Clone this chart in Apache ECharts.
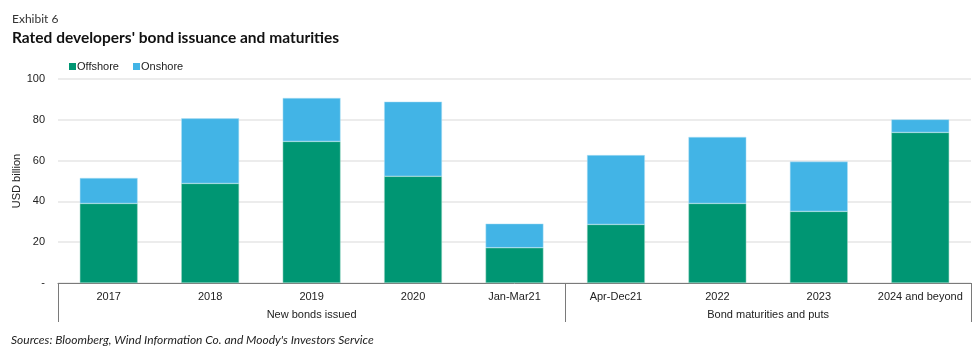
<!DOCTYPE html>
<html><head><meta charset="utf-8">
<script src="https://cdn.jsdelivr.net/npm/echarts@6/dist/echarts.min.js"></script>
<style>html,body{margin:0;padding:0;background:#fff}#c{width:980px;height:358px}</style>
</head><body><div id="c"></div>
<script>
const categories = ['2017','2018','2019','2020','Jan-Mar21','Apr-Dec21','2022','2023','2024 and beyond'];
const offshore = [39.0, 48.8, 69.4, 52.3, 17.3, 28.7, 39.0, 35.1, 73.8];
const total = [51.5, 80.7, 90.7, 88.9, 29.1, 62.7, 71.6, 59.5, 80.2];
const onshore = total.map((t, i) => +(t - offshore[i]).toFixed(1));
const groups = ['New bonds issued', 'Bond maturities and puts'];
const groupCenters = [2.5, 7];
const groupBounds = [0, 5, 9];
const yTicks = [0, 20, 40, 60, 80, 100];

const chart = echarts.init(document.getElementById('c'));
chart.setOption({
  animation: false,
  textStyle: { fontFamily: 'Liberation Sans, Arial, sans-serif' },
  title: [
    { text: 'Exhibit 6', left: 7, top: 8, textStyle: { fontFamily: 'Lato', fontWeight: 'normal', fontSize: 12, color: '#333' } },
    { text: "Rated developers' bond issuance and maturities", left: 7, top: 25, textStyle: { fontFamily: 'Lato', fontWeight: 'bold', fontSize: 15.5, color: '#111' } },
    { text: "Sources: Bloomberg, Wind Information Co. and Moody's Investors Service", left: 6, top: 329, textStyle: { fontFamily: 'Lato', fontStyle: 'italic', fontWeight: 'normal', fontSize: 12, color: '#222' } }
  ],
  legend: {
    left: 64, top: 56, itemWidth: 7, itemHeight: 7, itemGap: 14,
    icon: 'rect',
    itemStyle: { borderWidth: 0 },
    textStyle: { fontSize: 11, color: '#222', padding: [0, 0, 0, -4] },
    data: ['Offshore', 'Onshore']
  },
  grid: { left: 58, right: 9, top: 79, bottom: 75, outerBoundsMode: 'none', containLabel: false },
  xAxis: [
    {
      type: 'category', data: categories, position: 'bottom',
      axisLine: { show: true, lineStyle: { color: '#7a7a7a', width: 1 } },
      axisTick: { show: false },
      axisLabel: { color: '#222', fontSize: 11, margin: 8, interval: 0 }
    },
    {
      type: 'value', min: 0, max: 9, position: 'bottom',
      splitLine: { show: false },
      axisLine: { show: false },
      axisTick: { show: true, customValues: groupBounds, length: 39, lineStyle: { color: '#7a7a7a', width: 1 } },
      axisLabel: {
        customValues: groupCenters, fontSize: 11, color: '#222', margin: 26,
        formatter: v => groups[groupCenters.indexOf(v)] || ''
      }
    }
  ],
  yAxis: {
    type: 'value', min: 0, max: 100, interval: 20,
    name: 'USD billion', nameLocation: 'middle', nameGap: 36, nameRotate: 90, nameMoveOverlap: false,
    nameTextStyle: { fontSize: 11, color: '#222' },
    axisLine: { show: false }, axisTick: { show: false },
    axisLabel: { fontSize: 11, color: '#222', margin: 13, formatter: v => v === 0 ? '-' : String(v) },
    splitLine: { lineStyle: { color: '#e6e6e6', width: 1.5 } }
  },
  series: [
    { name: 'Offshore', type: 'bar', stack: 'a', data: offshore, barWidth: '57%', xAxisIndex: 0,
      itemStyle: { color: '#009673', borderColor: '#9fd9c6', borderWidth: 0.5 } },
    { name: 'Onshore', type: 'bar', stack: 'a', data: onshore, barWidth: '57%', xAxisIndex: 0,
      itemStyle: { color: '#42b4e6', borderColor: '#b3e0f5', borderWidth: 0.5 } }
  ]
});
</script></body></html>
